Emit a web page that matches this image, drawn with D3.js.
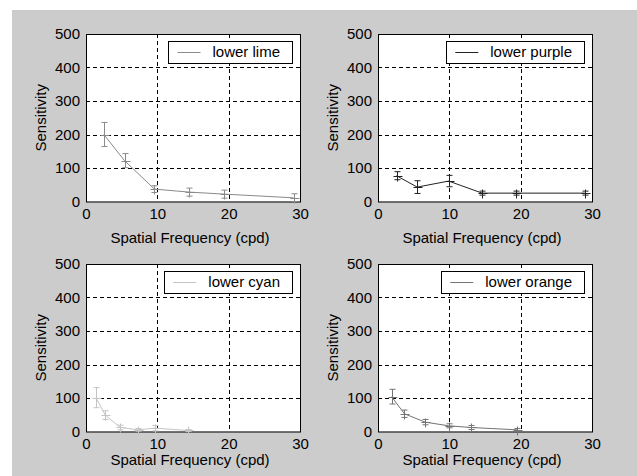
<!DOCTYPE html>
<html>
<head>
<meta charset="utf-8">
<script src="https://cdn.jsdelivr.net/npm/d3@7"></script>
<style>
  body { margin: 0; background: #fff; }
  text { font-family: "Liberation Sans", Arial, sans-serif; font-size: 15px; fill: #000; }
</style>
</head>
<body>
<script>
// data
var limeFreq = [2.5, 5.4, 9.6, 14.5, 19.4, 29.1],
    limeSens = [200, 122, 37, 28, 22, 11],
    limeErr  = [36, 21, 10, 12, 12, 12];
var purpleFreq = [2.6, 5.5, 9.9, 14.6, 19.4, 29.0],
    purpleSens = [77, 43, 61, 25, 25, 25],
    purpleErr  = [12, 19, 17, 6, 6, 6];
var cyanFreq = [1.4, 2.7, 4.8, 7.3, 9.7, 14.3],
    cyanSens = [101, 49, 12, 5, 10, 3],
    cyanErr  = [30, 13, 7, 4, 8, 3];
var orangeFreq = [1.9, 3.7, 6.6, 9.9, 13.0, 19.5],
    orangeSens = [104, 53, 28, 17, 12, 5],
    orangeErr  = [22, 11, 8, 6, 6, 4];

var xTicks = [0, 10, 20, 30],
    yTicks = [0, 100, 200, 300, 400, 500];

var panels = [
  {name: "lower lime",   freq: limeFreq,   sens: limeSens,   err: limeErr,   color: "#8a8a8a", left: 86,  top: 34,  xlab: 41},
  {name: "lower purple", freq: purpleFreq, sens: purpleSens, err: purpleErr, color: "#222222", left: 378, top: 34,  xlab: 41},
  {name: "lower cyan",   freq: cyanFreq,   sens: cyanSens,   err: cyanErr,   color: "#c4c4c4", left: 86,  top: 264, xlab: 33},
  {name: "lower orange", freq: orangeFreq, sens: orangeSens, err: orangeErr, color: "#747474", left: 378, top: 264, xlab: 33}
];

var W = 637, H = 476, pw = 214, ph = 167.5;

var svg = d3.select("body").append("svg")
    .attr("width", W)
    .attr("height", H);

// figure background
svg.append("rect")
    .attr("x", 12).attr("y", 10)
    .attr("width", W - 12).attr("height", H - 10)
    .attr("fill", "#cccccc");

panels.forEach(function(p) {
  var x = d3.scaleLinear().domain([0, 30]).range([0, pw]);
  var y = d3.scaleLinear().domain([0, 500]).range([ph, 0]);

  var g = svg.append("g")
      .attr("transform", "translate(" + p.left + "," + p.top + ")");

  g.append("rect")
      .attr("width", pw).attr("height", ph)
      .attr("fill", "#fff");

  // dashed grid
  g.append("g").selectAll("line")
    .data(xTicks.slice(1, -1))
    .enter().append("line")
      .attr("x1", function(d) { return Math.round(x(d)) + 0.5; })
      .attr("x2", function(d) { return Math.round(x(d)) + 0.5; })
      .attr("y1", 0).attr("y2", ph)
      .attr("stroke", "#000")
      .attr("stroke-dasharray", "4,3");
  g.append("g").selectAll("line")
    .data(yTicks.slice(1, -1))
    .enter().append("line")
      .attr("y1", function(d) { return Math.round(y(d)) + 0.5; })
      .attr("y2", function(d) { return Math.round(y(d)) + 0.5; })
      .attr("x1", 0).attr("x2", pw)
      .attr("stroke", "#000")
      .attr("stroke-dasharray", "4,3");

  // axes
  var xa = g.append("g")
      .attr("transform", "translate(0," + ph + ")")
      .call(d3.axisBottom(x).tickValues(xTicks).tickSize(0).tickPadding(7));
  var ya = g.append("g")
      .call(d3.axisLeft(y).tickValues(yTicks).tickSize(0).tickPadding(6));
  [xa, ya].forEach(function(a) {
    a.select(".domain").remove();
    a.selectAll("text").attr("font-size", 16).attr("font-family", "Liberation Sans, Arial, sans-serif").attr("fill", "#000");
  });

  g.append("rect")
      .attr("x", 0.5).attr("y", 0.5)
      .attr("width", pw).attr("height", ph)
      .attr("fill", "none")
      .attr("stroke", "#000");

  var pts = p.freq.map(function(f, i) { return {f: f, s: p.sens[i], e: p.err[i]}; });

  // connecting line
  g.append("path")
      .datum(pts)
      .attr("fill", "none")
      .attr("stroke", p.color)
      .attr("d", d3.line().x(function(d) { return x(d.f); }).y(function(d) { return y(d.s); }));

  // error bars with caps and + markers
  var eb = g.append("g").attr("stroke", p.color).attr("fill", "none");
  pts.forEach(function(d) {
    var cx = Math.round(x(d.f)) + 0.5;
    var top = y(d.s + d.e), bot = y(Math.max(0, d.s - d.e));
    eb.append("line").attr("x1", cx).attr("x2", cx).attr("y1", top).attr("y2", bot);
    eb.append("line").attr("x1", cx - 3).attr("x2", cx + 3).attr("y1", top).attr("y2", top);
    eb.append("line").attr("x1", cx - 3).attr("x2", cx + 3).attr("y1", bot).attr("y2", bot);
    var cy = Math.round(y(d.s)) + 0.5;
    eb.append("line").attr("x1", cx - 4).attr("x2", cx + 5).attr("y1", cy).attr("y2", cy);
    eb.append("line").attr("x1", cx).attr("x2", cx).attr("y1", cy - 4).attr("y2", cy + 5);
  });

  // axis labels
  g.append("text")
      .attr("x", pw / 2 - 3)
      .attr("y", ph + p.xlab)
      .style("text-anchor", "middle")
      .text("Spatial Frequency (cpd)");
  g.append("text")
      .attr("transform", "rotate(-90)")
      .attr("x", -ph / 2)
      .attr("y", -40)
      .style("text-anchor", "middle")
      .text("Sensitivity");

  // legend in the upper right
  var lg = g.append("g");
  var lt = lg.append("text")
      .attr("y", 23)
      .text(p.name);
  var tw = lt.node().getComputedTextLength();
  var bw = 9 + 23 + 12 + tw + 12;
  var bx = pw - 8 - bw;
  lt.attr("x", bx + 44);
  lg.insert("rect", "text")
      .attr("x", Math.round(bx) + 0.5).attr("y", 7.5)
      .attr("width", Math.round(bw)).attr("height", 22)
      .attr("fill", "#fff")
      .attr("stroke", "#000");
  lg.append("line")
      .attr("x1", bx + 9).attr("x2", bx + 32)
      .attr("y1", 18.5).attr("y2", 18.5)
      .attr("stroke", p.color);
});
</script>
</body>
</html>
